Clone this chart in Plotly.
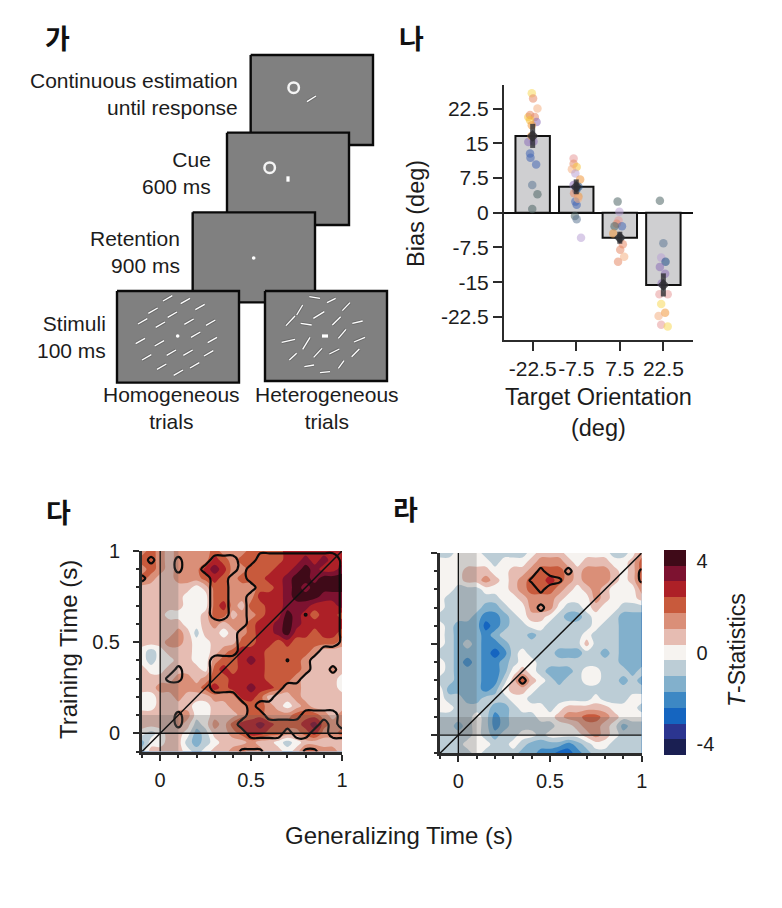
import numpy as np
import plotly.graph_objects as go

W, H = 782, 908
FONT = "Liberation Sans"
CJK = "Noto Sans CJK KR"
INK = "#1c1c1c"
AX = "#2b2b2b"

# ---- panel B data -------------------------------------------------------
orientation_labels = ["-22.5", "-7.5", "7.5", "22.5"]
mean_bias = [16.6, 5.6, -5.4, -15.6]
sem_bias = [2.6, 1.6, 1.3, 2.5]
y_tick_vals = [-22.5, -15, -7.5, 0, 7.5, 15, 22.5]
y_tick_text = ["-22.5", "-15", "-7.5", "0", "7.5", "15", "22.5"]

YEL, GLD, SAL, PCH, PNK, PUR, LPU, BLU, NAV, SLA, GRY, ORG = (
    "#f8d85a", "#f5c23c", "#e58a68", "#f4b183", "#e79a9a", "#8d6fb8",
    "#b9a3d6", "#4668b4", "#1f4e86", "#5f7896", "#4f6666", "#f0983c")

subject_x = [
    -.02, .01, .11, -.10, -.06, .05, .09, -.06, -.02, -.10, -.06, -.05, .08, -.01, .11, -.01, -.03, .02,
    -.06, -.06, .01, -.10, -.02, .09, -.06, .05, 0, .05, -.02, .01, -.03, .01, .11, -.05, .04,
    -.05, -.01, -.03, -.07, .05, -.12, -.15, .01, .07, .01, .10, -.04,
    -.08, 0, -.05, .05, -.08, .04, -.04, -.09, .10, -.05, .04, -.11, -.05, .10,
]
subject_cat = [0]*18 + [1]*17 + [2]*12 + [3]*14
subject_bias = [
    25.8, 24.7, 22.5, 20.7, 21.1, 20.7, 19.6, 20.0, 18.9, 15.3, 12.8, 11.9, 10.4, 6.0, 4.0, 0.8, 16.6, 15.4,
    11.7, 10.6, 9.9, 9.4, 8.5, 7.2, 6.0, 5.6, 4.9, 3.5, 2.4, 1.7, -0.7, -1.4, -5.4, 4.2, 3.0,
    2.4, 0.2, -1.7, -2.4, -2.9, -2.9, -4.5, -5.5, -6.8, -8.0, -9.5, -10.6,
    2.6, -6.6, -9.7, -10.6, -11.7, -13.2, -15.3, -17.6, -17.6, -19.7, -21.6, -22.3, -24.2, -24.6,
]
subject_color = [
    YEL, SAL, PCH, GLD, SAL, SAL, PUR, GLD, ORG, PUR, BLU, BLU, BLU, SLA, GRY, GRY, ORG, PUR,
    PNK, SAL, GLD, PCH, LPU, ORG, PUR, NAV, NAV, ORG, BLU, BLU, GRY, SLA, LPU, SAL, PCH,
    GRY, LPU, PNK, SAL, BLU, GRY, ORG, GRY, SAL, SAL, PCH, SAL,
    GRY, SLA, LPU, NAV, PUR, PUR, PUR, PNK, PNK, YEL, ORG, PCH, PNK, YEL,
]

# ---- panels C/D data: T-statistic band index, rows from t=1.0 down to -0.1 ----
time_axis = [-0.1, -0.05, 0, 0.05, 0.1, 0.15, 0.2, 0.25, 0.3, 0.35, 0.4, 0.45,
             0.5, 0.55, 0.6, 0.65, 0.7, 0.75, 0.8, 0.85, 0.9, 0.95, 1.0]
train_axis = time_axis[::-1]
T_STEP = 0.69

bands_c = [
    [2,3,2,1,2,2,2,2,3,2,2,2,3,3,3,3,4,4,4,4,4,4,4],
    [3,3,2,1,2,2,2,2,4,3,2,3,3,3,3,3,4,4,5,4,5,4,4],
    [2,3,2,1,2,2,2,4,5,4,2,2,3,3,3,4,4,5,6,5,4,4,5],
    [3,2,1,1,2,2,2,3,4,3,2,3,3,3,4,4,5,6,6,5,6,6,6],
    [1,1,1,1,1,1,0,1,3,3,2,2,2,3,3,4,5,6,5,6,6,6,6],
    [1,1,1,1,1,0,0,0,3,3,2,2,2,4,4,4,5,6,6,6,5,5,5],
    [1,1,1,1,1,0,0,0,3,4,2,1,3,3,4,4,5,5,5,4,4,4,5],
    [1,1,1,0,0,0,0,1,3,3,1,2,2,3,4,4,6,5,4,3,4,4,3],
    [1,1,1,1,1,0,0,1,2,1,2,2,3,4,4,5,6,5,4,4,4,4,4],
    [1,1,1,1,2,1,-1,1,1,0,1,2,3,4,4,5,6,4,4,3,4,4,3],
    [1,1,1,2,2,1,0,0,1,1,1,3,3,4,4,3,4,3,3,3,3,3,2],
    [0,-1,0,1,1,1,0,0,1,2,3,4,4,4,3,3,3,3,3,2,1,1,1],
    [0,-1,0,0,1,1,0,0,2,3,3,4,5,4,3,3,3,3,2,1,1,1,1],
    [1,0,0,1,1,1,1,0,3,4,3,4,4,4,3,3,3,3,2,1,1,2,1],
    [1,1,1,1,2,2,1,2,3,3,4,4,4,4,3,3,3,2,1,1,1,1,0],
    [1,1,2,2,2,2,2,3,4,3,4,4,5,4,4,3,2,2,1,1,1,1,0],
    [0,0,1,1,2,1,1,1,2,2,2,4,4,3,1,1,1,2,1,1,1,1,1],
    [0,0,1,1,1,1,0,0,1,1,2,2,3,3,2,1,0,1,2,1,1,1,1],
    [1,1,1,1,2,2,0,0,1,1,1,2,3,3,2,2,2,3,3,3,2,1,2],
    [1,1,1,1,2,1,-1,0,2,1,3,4,4,5,4,3,3,3,4,5,3,2,2],
    [0,-1,0,1,1,0,-2,-1,1,1,2,3,4,4,3,3,2,2,3,4,2,2,3],
    [-2,0,0,1,1,-1,-2,-1,0,1,1,1,2,1,1,0,-1,0,1,1,1,1,1],
    [-1,1,1,1,1,0,-1,0,1,1,2,3,2,2,1,1,0,1,3,3,2,2,1],
]
bands_d = [
    [-1,-1,0,0,0,-1,-1,-1,-1,-1,0,1,1,1,0,0,0,0,0,-1,-1,0,2],
    [0,0,0,0,0,0,-1,0,0,0,1,2,2,2,1,0,1,1,1,0,0,1,3],
    [0,0,0,1,1,1,0,0,1,1,2,3,3,3,2,1,2,2,2,1,0,1,3],
    [0,0,0,1,1,2,1,0,1,2,3,3,4,3,2,1,2,2,2,1,0,1,3],
    [0,0,-1,-1,-1,0,0,0,1,2,3,3,3,2,1,0,1,2,1,0,0,0,2],
    [0,-1,-1,-1,-1,-1,-1,0,0,1,2,2,2,1,0,0,0,2,1,0,0,0,1],
    [0,-1,-1,-1,-1,-2,-2,-1,0,0,2,2,2,0,-1,-1,0,1,0,0,-1,-1,-1],
    [-1,-1,-1,-1,-2,-3,-3,-2,-1,0,1,1,0,-1,-2,-2,-1,0,0,-1,-2,-2,-2],
    [0,-1,-2,-2,-2,-4,-3,-2,-1,-1,0,0,-1,-1,-1,-1,-1,0,-1,-1,-2,-2,-2],
    [0,-1,-2,-2,-2,-3,-2,-1,-1,-1,-2,-1,-1,-1,-1,-1,0,-1,-1,-1,-2,-2,-2],
    [0,-1,-2,-1,-2,-3,-3,-2,-1,-1,-1,-1,-1,-1,-1,-1,1,-1,-1,-1,-2,-2,-2],
    [-1,-1,-2,-2,-2,-3,-4,-3,-1,0,-1,-1,-1,-2,-2,-2,-1,-1,-2,-1,-2,-2,-2],
    [0,-1,-2,-3,-2,-3,-3,-2,-1,0,0,-1,-1,-1,-1,-1,-1,-1,-1,-1,-2,-2,-2],
    [0,-1,-2,-2,-2,-3,-3,-2,0,1,0,-1,-2,-2,-2,-1,0,0,-1,-1,-1,-2,-1],
    [-1,-1,-2,-2,-2,-3,-3,-1,1,3,1,0,-1,-2,-1,-1,0,0,-1,-1,-2,-1,-2],
    [0,-2,-2,-2,-2,-3,-2,0,1,1,0,-1,-1,-1,-1,-1,-1,-1,-1,-1,-1,-1,-1],
    [0,-1,-1,-2,-2,-1,-1,-1,0,0,-1,-1,-1,-1,-1,-1,-1,0,-1,-1,-1,0,0],
    [0,0,-1,-1,-1,-1,-2,-2,-1,0,0,0,-1,0,1,1,1,1,1,0,0,0,-1],
    [-1,-1,-1,-1,0,-1,-3,-2,-1,-1,-1,0,0,1,2,2,3,3,2,1,0,0,0],
    [-1,-1,-2,-1,0,-1,-3,-2,-1,-1,-1,-1,-1,0,0,1,2,2,1,0,-2,-1,-1],
    [-1,-1,-1,-1,0,-1,-2,-1,-1,0,0,-1,0,0,0,0,1,2,1,0,-1,-1,-1],
    [-1,-1,-1,0,0,0,-1,-1,0,-1,-2,-2,-2,-2,-3,-2,-1,0,0,-1,-1,-1,-1],
    [-1,-1,-1,-1,0,-1,-1,-1,-1,-2,-2,-3,-3,-4,-4,-3,-2,-1,-1,-1,-1,-1,-1],
]
# significant-cluster membership (digit/9), rows from t=1.0 down to -0.1
cluster_c = [
    "00000000000333333333333",
    "07007000999009999999993",
    "00007009999099999999993",
    "70000000990099999999993",
    "00000000990009999999993",
    "00000000990099999999993",
    "00000000990099999999993",
    "00000000990099999949993",
    "00000000000099999999993",
    "00000000000999999999993",
    "00000000000999999999993",
    "00000000000999999999000",
    "00000000999999994990000",
    "00007000999999999990070",
    "00077000999999999900000",
    "00000000999999990000000",
    "00000000000999900000000",
    "00000000000090000000000",
    "00007000000099000099990",
    "00007000000999999999090",
    "00000000000099990990099",
    "00000000000000000000000",
    "00000000000666000066000",
]
cluster_d = [
    "00000000000000000000000",
    "00000000000000000000000",
    "00000000000700700000006",
    "00000000006996000000006",
    "00000000000700000000000",
    "00000000000000000000000",
    "00000000000700000000000",
    "00000000000000000000000",
    "00000000000000000000000",
    "00000000000000000000000",
    "00000000000000000000000",
    "00000000000000000000000",
    "00000000000000000000000",
    "00000000000000000000000",
    "00000000070000000000000",
    "00000000000000000000000",
    "00000000000000000000000",
    "00000000000000000000000",
    "00000000000000000000000",
    "00000000000000000000000",
    "00000000000000000000000",
    "00000000000000000000000",
    "00000000000000000000000",
]
band_colors = ["#1a1f52", "#2b3590", "#1565c0", "#3d88c4", "#82b0cc", "#bccdd6", "#f6f3f0",
               "#e6bcb2", "#da8f78", "#c85a3c", "#ad2027", "#7d1230", "#3f0a18"]

# ---- panel A schematic, in units of a 3x enlarged page -------------------
screens_x0 = [752, 681, 578, 351, 795]
screens_x1 = [1119, 1047, 945, 717, 1161]
screens_y0 = [135, 368, 607, 843, 843]
screens_y1 = [405, 645, 877, 1118, 1113]
ring_x = [881, 809]
ring_y = [233, 473]
fix_x = [761, 533]
fix_y = [744, 978]
homog_cx = [503, 556, 600, 459, 517, 428, 481, 567, 632, 587, 421, 478, 637, 514, 564, 626, 440, 485, 584, 535]
homog_cy = [865, 873, 891, 902, 914, 934, 944, 935, 938, 974, 993, 1000, 990, 1028, 1028, 1030, 1042, 1070, 1066, 1088]
heter_x0 = [928, 981, 1027, 890, 858, 940, 902, 997, 1057, 1015, 845, 908, 1062, 868, 941, 988, 1055, 913, 1015, 960]
heter_y0 = [860, 878, 902, 915, 947, 925, 940, 945, 940, 985, 997, 1018, 996, 1050, 1042, 1032, 1040, 1070, 1075, 1088]
heter_x1 = [960, 1007, 1050, 908, 885, 973, 935, 1022, 1088, 1038, 885, 930, 1095, 890, 966, 1018, 1078, 942, 1032, 990]
heter_y1 = [865, 865, 878, 885, 918, 905, 945, 920, 933, 958, 988, 982, 982, 1030, 1015, 1017, 1017, 1065, 1052, 1085]
probe_x = [921, 948]
probe_y = [275, 258]


def fx(px):
    return px / W


def fy(py):
    return 1 - py / H


fig = go.Figure()

# ---- panel B -------------------------------------------------------------
fig.add_trace(go.Bar(x=[0, 1, 2, 3], y=mean_bias, width=0.79, xaxis="x", yaxis="y",
                     marker=dict(color="#cfcfd1", line=dict(color="#111111", width=2)), showlegend=False))
fig.add_trace(go.Scatter(x=[c + j for c, j in zip(subject_cat, subject_x)], y=subject_bias, mode="markers",
                         xaxis="x", yaxis="y", showlegend=False,
                         marker=dict(size=8.5, color=subject_color, opacity=0.55, line=dict(width=0))))
fig.add_trace(go.Scatter(x=[0, 1, 2, 3], y=mean_bias, mode="markers", xaxis="x", yaxis="y", showlegend=False,
                         marker=dict(size=9, color="rgba(45,45,50,0.8)", symbol="diamond"),
                         error_y=dict(type="data", array=sem_bias, thickness=5, width=0, color="rgba(45,45,50,0.8)")))

# ---- panels C / D --------------------------------------------------------
def heat(bands, cluster, xa, ya, show):
    z = (np.array(bands) * T_STEP).tolist()
    fig.add_trace(go.Contour(
        x=time_axis, y=train_axis, z=z, xaxis=xa, yaxis=ya, zmin=-4.48, zmax=4.48,
        contours=dict(coloring="fill", start=-3.795, end=3.795, size=T_STEP, showlines=False),
        line=dict(width=0),
        colorscale=[[i / 12, c] for i, c in enumerate(band_colors)],
        showscale=show,
        colorbar=dict(x=fx(664), xanchor="left", y=fy(755), yanchor="bottom", len=205, lenmode="pixels",
                      thickness=22, thicknessmode="pixels", outlinewidth=0, ticks="outside", ticklen=7,
                      tickcolor="rgba(0,0,0,0)", ypad=0, xpad=0,
                      tickmode="array", tickvals=[-4, 0, 4], ticktext=["-4", "0", "4"],
                      tickfont=dict(family=FONT, size=20, color=INK), ticklabelposition="outside"),
    ))
    m = [[int(ch) / 9 for ch in row] for row in cluster]
    fig.add_trace(go.Contour(
        x=time_axis, y=train_axis, z=m, xaxis=xa, yaxis=ya, showscale=False,
        contours=dict(coloring="none", start=0.5, end=0.5, size=1),
        line=dict(color="#0b0b0b", width=2.2),
    ))


heat(bands_c, cluster_c, "x2", "y2", False)
heat(bands_d, cluster_d, "x3", "y3", True)

for xr, yr in (("x2", "y2"), ("x3", "y3")):
    fig.add_shape(type="rect", xref=xr, yref=yr, x0=0, x1=0.1, y0=-0.1, y1=1,
                  fillcolor="rgba(90,90,90,0.25)", line_width=0, layer="above")
    fig.add_shape(type="rect", xref=xr, yref=yr, x0=-0.1, x1=1, y0=0, y1=0.1,
                  fillcolor="rgba(90,90,90,0.25)", line_width=0, layer="above")
    fig.add_shape(type="line", xref=xr, yref=yr, x0=0, x1=0, y0=-0.1, y1=1,
                  line=dict(color="#111", width=1.3), layer="above")
    fig.add_shape(type="line", xref=xr, yref=yr, x0=-0.1, x1=1, y0=0, y1=0,
                  line=dict(color="#111", width=1.3), layer="above")
    fig.add_shape(type="line", xref=xr, yref=yr, x0=-0.1, x1=1, y0=-0.1, y1=1,
                  line=dict(color="#111", width=1.5), layer="above")

# ---- panel A (full-page hidden axes) -------------------------------------
for x0, x1, y0, y1 in zip(screens_x0, screens_x1, screens_y0, screens_y1):
    fig.add_trace(go.Scatter(x=[x0, x1, x1, x0, x0], y=[y0, y0, y1, y1, y0], mode="lines",
                             fill="toself", fillcolor="#808080", line=dict(color="#0a0a0a", width=2.4),
                             xaxis="x4", yaxis="y4", showlegend=False))


def segs(x0s, y0s, x1s, y1s):
    xs, ys = [], []
    for a, b, c, d in zip(x0s, y0s, x1s, y1s):
        xs += [a, c, None]
        ys += [b, d, None]
    return xs, ys


hx0 = [c - 14 for c in homog_cx]
hx1 = [c + 14 for c in homog_cx]
hy0 = [c + 8 for c in homog_cy]
hy1 = [c - 8 for c in homog_cy]
for a in ((hx0, hy0, hx1, hy1), (heter_x0, heter_y0, heter_x1, heter_y1), ([probe_x[0]], [probe_y[0]], [probe_x[1]], [probe_y[1]])):
    xs, ys = segs(*a)
    fig.add_trace(go.Scatter(x=xs, y=ys, mode="lines", line=dict(color="#6a6a6a", width=3.2),
                             xaxis="x4", yaxis="y4", showlegend=False))
    fig.add_trace(go.Scatter(x=xs, y=ys, mode="lines", line=dict(color="#ffffff", width=1.3),
                             xaxis="x4", yaxis="y4", showlegend=False))
fig.add_trace(go.Scatter(x=ring_x, y=ring_y, mode="markers", xaxis="x4", yaxis="y4", showlegend=False,
                         marker=dict(symbol="circle-open", size=10.5, color="#f4f4f4", line=dict(width=2.5, color="#f4f4f4"))))
fig.add_trace(go.Scatter(x=fix_x, y=fix_y, mode="markers", xaxis="x4", yaxis="y4", showlegend=False,
                         marker=dict(size=3.6, color="#ffffff")))
fig.add_trace(go.Scatter(x=[864, 864, None, 966, 984], y=[499, 515, None, 978, 978], mode="lines",
                         line=dict(color="#ffffff", width=3.2), xaxis="x4", yaxis="y4", showlegend=False))

# ---- layout --------------------------------------------------------------
tf = dict(family=FONT, size=20, color=INK)
tfb = dict(family=FONT, size=21, color=INK)


def heat_axis(dom, anchor, labels, standoff):
    tv = [0, 0.5, 1]
    return dict(domain=dom, anchor=anchor, range=[-0.1, 1], tickmode="array", tickvals=tv,
                ticktext=["0", "0.5", "1"] if labels else ["", "", ""], ticks="outside", ticklen=6, tickwidth=2,
                tickcolor=AX, showgrid=False, zeroline=False, showline=True, linecolor=AX, linewidth=3,
                tickfont=tf, ticklabelstandoff=standoff, tickangle=0,
                minor=dict(tickmode="array", tickvals=[-0.1, 0.1, 0.2, 0.3, 0.4, 0.6, 0.7, 0.8, 0.9],
                           ticks="outside", ticklen=3, tickwidth=2, tickcolor=AX, showgrid=False))


fig.update_layout(
    width=W, height=H, margin=dict(l=0, r=0, t=0, b=0, pad=0, autoexpand=False),
    paper_bgcolor="white", plot_bgcolor="rgba(0,0,0,0)",
    font=dict(family=FONT, size=20, color=INK), showlegend=False, barmode="overlay",
    xaxis=dict(domain=[fx(504), fx(693)], anchor="y", range=[-0.658, 3.68], tickmode="array",
               tickvals=[0, 1, 2, 3], ticktext=orientation_labels, ticks="outside", ticklen=9, tickwidth=2,
               tickangle=0, tickcolor=AX, showline=True, linecolor=AX, linewidth=2, showgrid=False, zeroline=False, tickfont=tfb),
    yaxis=dict(domain=[fy(340), fy(85)], anchor="x", range=[-27.5, 27.6], tickmode="array",
               tickvals=y_tick_vals, ticktext=y_tick_text, ticks="outside", ticklen=9, tickwidth=2,
               tickcolor=AX, showline=True, linecolor=AX, linewidth=2, showgrid=False,
               zeroline=True, zerolinecolor="#111", zerolinewidth=2, tickfont=tfb),
    xaxis2=heat_axis([fx(142), fx(342)], "y2", True, 2),
    yaxis2=heat_axis([fy(751.5), fy(551)], "x2", True, 9),
    xaxis3=heat_axis([fx(440), fx(641.7)], "y3", True, 2),
    yaxis3=heat_axis([fy(753.3), fy(553)], "x3", False, 9),
    xaxis4=dict(domain=[0, 1], anchor="y4", range=[0, 2346], visible=False),
    yaxis4=dict(domain=[0, 1], anchor="x4", range=[2694, -30], visible=False),
)


def note(text, px, py, xa="center", ya="middle", size=21, align="center", angle=0, family=FONT, color=INK):
    fig.add_annotation(text=text, x=fx(px), y=fy(py), xref="paper", yref="paper", xanchor=xa, yanchor=ya,
                       showarrow=False, align=align, textangle=angle,
                       font=dict(family=family, size=size, color=color))


for t, px, py in (("가", 57, 38), ("나", 411, 38), ("다", 58, 511), ("라", 405, 508)):
    note("<b>" + t + "</b>", px, py, size=27, family=CJK, color="#111")
note("Continuous estimation<br>until response", 240, 94, xa="right", align="right")
note("Cue<br>600 ms", 213, 173, xa="right", align="right")
note("Retention<br>900 ms", 181.5, 252, xa="right", align="right")
note("Stimuli<br>100 ms", 107.7, 337.5, xa="right", align="right")
note("Homogeneous<br>trials", 171.7, 408)
note("Heterogeneous<br>trials", 326.7, 408)
note("Target Orientation<br>(deg)", 598, 413, size=23.5)
note("Bias (deg)", 416, 214, angle=-90, size=23.5)
note("Training Time (s)", 68, 650, angle=-90, size=24)
note("Generalizing Time (s)", 398.5, 835, size=24)
note("<i>T</i>-Statistics", 737, 650, angle=-90, size=23)

fig.write_html("out.html", config={"displayModeBar": False},
               post_script="document.body.style.margin='0';document.documentElement.style.overflow='hidden';")
